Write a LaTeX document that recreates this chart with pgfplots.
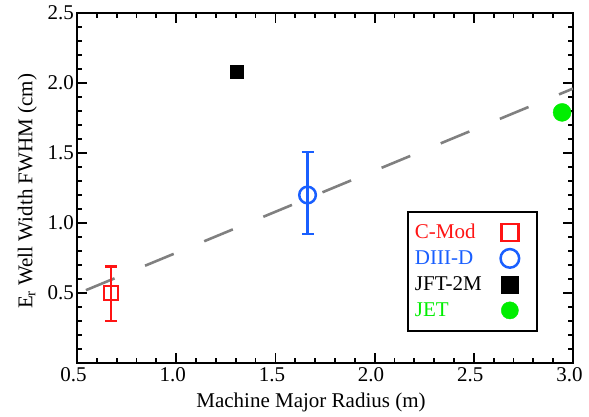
\documentclass[border=0pt]{standalone}
\usepackage{fontspec}
\setmainfont{Liberation Serif}
\usepackage{pgfplots}
\pgfplotsset{compat=1.18}
\definecolor{cmod}{RGB}{255,20,20}
\definecolor{diiid}{RGB}{25,95,255}
\definecolor{jetg}{RGB}{0,238,0}
\definecolor{fitgray}{RGB}{128,128,128}
\pgfplotsset{
  legimg/.style={legend image code/.code={%
    \path[draw=none,fill=none] (-10pt,-10pt) rectangle (20pt,10pt);
    \draw[##1,mark size=#1] plot coordinates {(0pt,0pt)};}},
}
\begin{document}
\begin{tikzpicture}[font=\fontsize{21}{25}\selectfont]
\path[use as bounding box] (-77pt,-54pt) rectangle (512pt,363pt);
\begin{axis}[
  at={(0,0)}, anchor=south west,
  scale only axis, width=496pt, height=350pt,
  xmin=0.5, xmax=3.0, ymin=0, ymax=2.5,
  xtick={0.5,1.0,1.5,2.0,2.5,3.0},
  xticklabels={0.5,1.0,1.5,2.0,2.5,3.0},
  ytick={0,0.5,1.0,1.5,2.0,2.5},
  yticklabels={,0.5,1.0,1.5,2.0,2.5},
  minor tick num=4,
  tick align=inside,
  major tick length=10pt, minor tick length=5pt,
  every tick/.style={black, line width=1.8pt},
  axis line style={line width=2.2pt},
  /pgf/number format/assume math mode=true,
  tick label style={font=\fontsize{21}{25}\selectfont},
  xticklabel style={inner sep=0pt, anchor=north, yshift=-4pt, xshift=-3.5pt},
  yticklabel style={inner sep=0pt, anchor=east, xshift=-3pt},
  xlabel={Machine Major Radius (m)},
  ylabel={E\textsubscript{r} Well Width FWHM (cm)},
  xlabel style={at={(axis description cs:0.5,0)}, anchor=north, inner sep=0pt, yshift=-29.5pt, xshift=-14pt},
  ylabel style={at={(axis description cs:-0.0806,0.49)}, anchor=south, inner sep=0pt},
  legend plot pos=right,
  legend cell align=left,
  legend style={at={(rel axis cs:0.665,0.0886)}, anchor=south west,
    draw=black, line width=2.2pt, inner xsep=7pt, inner ysep=10.5pt,
    row sep=6pt, column sep=18pt,
    nodes={inner sep=0pt, font=\fontsize{21}{25}\selectfont}},
  clip=true,
]
\addplot[fitgray, line width=2.6pt, dash pattern=on 31pt off 33pt, forget plot]
  coordinates {(0.545,0.52) (3.0,1.96)};

\addplot[cmod, only marks, mark=square, mark size=7pt, line width=2.5pt, legimg=8.6pt,
  error bars/.cd, y dir=both, y explicit,
  error bar style={line width=2.4pt, cmod},
  error mark options={cmod, line width=2.4pt, mark size=6pt, rotate=90}]
  coordinates {(0.672,0.50) += (0,0.19) -= (0,0.20)};
\addlegendentry{\textcolor{cmod}{C-Mod}}

\addplot[diiid, only marks, mark=o, mark size=8.3pt, line width=2.5pt, legimg=9.3pt,
  error bars/.cd, y dir=both, y explicit,
  error bar style={line width=2.4pt, diiid},
  error mark options={diiid, line width=2.4pt, mark size=6pt, rotate=90}]
  coordinates {(1.662,1.20) += (0,0.305) -= (0,0.28)};
\addlegendentry{\textcolor{diiid}{DIII-D}}

\addplot[black, only marks, mark=square*, mark size=6.5pt, line width=0.4pt, legimg=8.6pt,
  mark options={fill=black}]
  coordinates {(1.305,2.08)};
\addlegendentry{\textcolor{black}{JFT-2M}}

\addplot[jetg, only marks, mark=*, mark size=9pt, line width=0.4pt, legimg=8.6pt,
  mark options={fill=jetg, draw=jetg}]
  coordinates {(2.945,1.79)};
\addlegendentry{\textcolor{jetg}{JET}}
\end{axis}
\end{tikzpicture}
\end{document}
